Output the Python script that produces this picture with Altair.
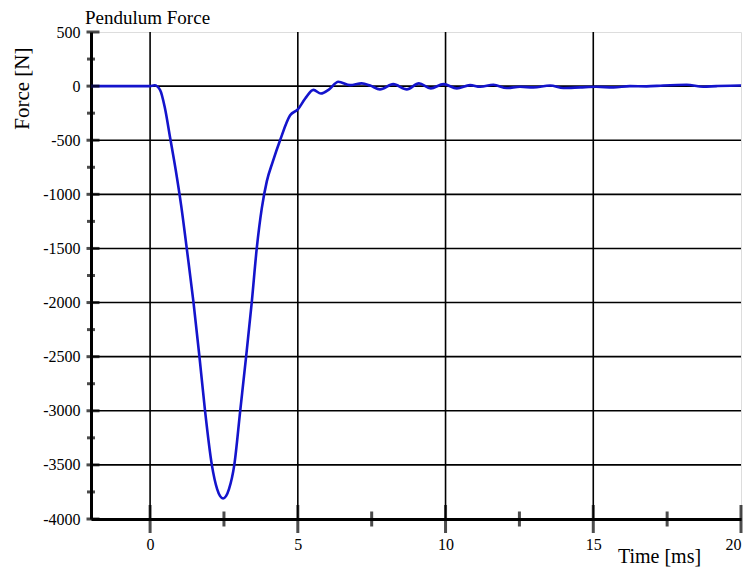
import altair as alt
import pandas as pd

# Curve
time_ms = [-2.0, -1.0, -0.3, 0.0, 0.15, 0.34, 0.5, 0.68, 0.87, 1.05, 1.25, 1.47, 1.67, 1.86,
           2.09, 2.27, 2.37, 2.47, 2.57, 2.67, 2.85, 3.05, 3.25, 3.44, 3.61, 3.78, 3.95,
           4.15, 4.40, 4.74, 5.0, 5.25, 5.53, 5.78, 6.06, 6.37, 6.77, 7.16, 7.45, 7.78, 8.23,
           8.69, 9.1, 9.5, 9.93, 10.38, 10.83, 11.17, 11.62, 12.07, 12.52, 12.97, 13.54,
           13.99, 14.55, 15.1, 15.68, 16.24, 16.8, 17.37, 18.16, 18.72, 19.17, 19.95, 20.0]
force_n = [0, 0, 0, 0, 8, -37, -200, -480, -780, -1100, -1520, -2000, -2500, -3000,
           -3500, -3724, -3789, -3810, -3789, -3724, -3500, -3000, -2500, -2000, -1500, -1130, -880,
           -700, -500, -270, -215, -115, -35, -68, -30, 40, 9, 25, 5, -30, 18,
           -30, 25, -21, 18, -21, 9, -6, 12, -18, -6, -12, 6,
           -18, -12, -6, -12, 0, -2, 6, 12, -6, 0, 6, 5]

chart_title = ["Pendulum Force"]
x_grid = [0, 5, 10, 15]
y_grid = [-3500, -3000, -2500, -2000, -1500, -1000, -500, 0]
x_major = [0, 5, 10, 15, 20]
x_minor = [2.5, 7.5, 12.5, 17.5]
y_major = [-4000, -3500, -3000, -2500, -2000, -1500, -1000, -500, 0, 500]
y_minor = [-3750, -3250, -2750, -2250, -1750, -1250, -750, -250, 250]

curve = pd.DataFrame({"t": time_ms, "f": force_n})

FONT = "Liberation Serif"
xscale = alt.Scale(domain=[-2, 20], nice=False, zero=False)
yscale = alt.Scale(domain=[-4000, 500], nice=False, zero=False)

x_axis = alt.Axis(values=x_major, ticks=False, grid=False, domainWidth=3, domainColor="black",
                  labelFont=FONT, labelFontSize=16, labelColor="black", labelPadding=17,
                  labelExpr="'' + datum.value",
                  title="Time [ms]", titleFont=FONT, titleFontSize=20, titleFontWeight="normal",
                  titleColor="black", titleX=568, titleY=43, titleAlign="center",
                  titleBaseline="alphabetic")
y_axis = alt.Axis(values=y_major, ticks=False, grid=False, domainWidth=3, domainColor="black",
                  labelFont=FONT, labelFontSize=16, labelColor="black", labelPadding=11,
                  labelExpr="'' + datum.value",
                  title="Force [N]", titleFont=FONT, titleFontSize=21, titleFontWeight="normal",
                  titleColor="black", titleX=-69, titleY=15, titleAngle=-90, titleAlign="right",
                  titleBaseline="middle")

line = alt.Chart(curve).mark_line(color="#1414cc", strokeWidth=2.6, interpolate="monotone").encode(
    x=alt.X("t:Q", scale=xscale, axis=x_axis),
    y=alt.Y("f:Q", scale=yscale, axis=y_axis),
)

vgrid = alt.Chart(pd.DataFrame({"x": x_grid})).mark_rule(color="black", strokeWidth=1.6).encode(
    x=alt.X("x:Q", scale=xscale))
hgrid = alt.Chart(pd.DataFrame({"y": y_grid})).mark_rule(color="black", strokeWidth=1.6).encode(
    y=alt.Y("y:Q", scale=yscale))

xmaj = alt.Chart(pd.DataFrame({"x": x_major, "y": [-4000] * len(x_major)})).mark_tick(
    orient="vertical", size=28, thickness=3, color="black").encode(
    x=alt.X("x:Q", scale=xscale), y=alt.Y("y:Q", scale=yscale))
xmin = alt.Chart(pd.DataFrame({"x": x_minor, "y": [-4000] * len(x_minor)})).mark_tick(
    orient="vertical", size=15, thickness=3, color="black").encode(
    x=alt.X("x:Q", scale=xscale), y=alt.Y("y:Q", scale=yscale))
ymaj = alt.Chart(pd.DataFrame({"y": y_major, "x": [-2] * len(y_major)})).mark_tick(
    orient="horizontal", size=13, thickness=3, color="black", xOffset=2).encode(
    x=alt.X("x:Q", scale=xscale), y=alt.Y("y:Q", scale=yscale))
ymin = alt.Chart(pd.DataFrame({"y": y_minor, "x": [-2] * len(y_minor)})).mark_tick(
    orient="horizontal", size=8, thickness=3, color="black").encode(
    x=alt.X("x:Q", scale=xscale), y=alt.Y("y:Q", scale=yscale))

title_text = alt.Chart(pd.DataFrame({"label": chart_title})).mark_text(
    align="left", baseline="alphabetic", font=FONT, fontSize=19, color="black").encode(
    text="label:N", x=alt.value(-6), y=alt.value(-8))

chart = alt.layer(vgrid, hgrid, line, xmaj, xmin, ymaj, ymin, title_text).properties(
    width=650, height=487,
    autosize=alt.AutoSizeParams(type="none"),
    padding={"left": 83, "top": 24, "right": 3, "bottom": 48},
).configure_view(stroke="black", strokeWidth=3).configure(background="white")

chart.save("out.html", embed_options={"renderer": "svg", "actions": False})
